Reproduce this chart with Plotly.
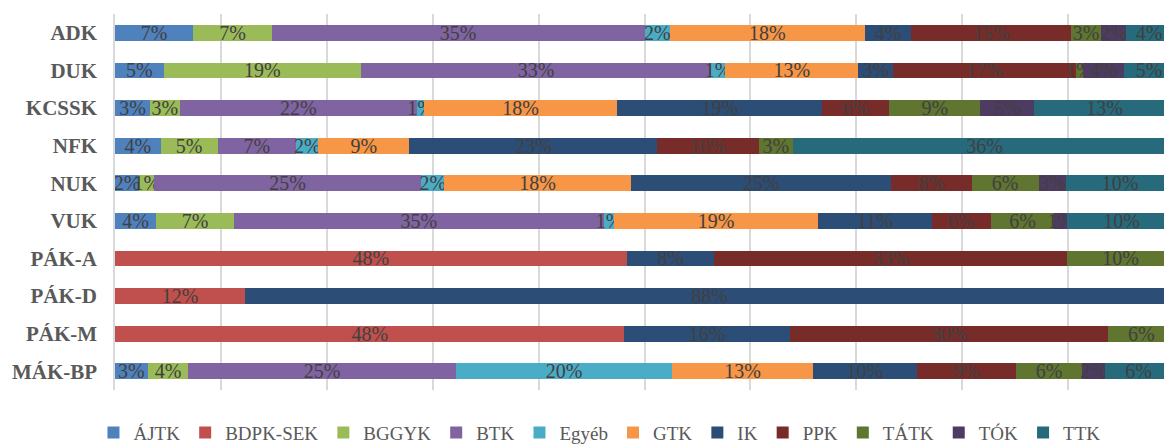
import plotly.graph_objects as go

# units (top to bottom)
units = ["ADK", "DUK", "KCSSK", "NFK", "NUK", "VUK", "PÁK-A", "PÁK-D", "PÁK-M", "MÁK-BP"]

# share of each faculty per unit, in percent
ajtk = [7.4, 4.6, 3.3, 4.3, 2.3, 3.9, None, None, None, 3.1]
bdpk_sek = [None, None, None, None, None, None, 48.3, 12.3, 48.1, None]
bggyk = [7.4, 18.6, 2.8, 5.4, 1.4, 7.3, None, None, None, 3.8]
btk = [35.2, 33.1, 22.4, 7.4, 25.2, 35.0, None, None, None, 25.3]
egyeb = [2.4, 1.3, 0.7, 2.1, 2.2, 0.9, None, None, None, 20.4]
gtk = [18.4, 12.6, 18.2, 8.6, 17.6, 19.3, None, None, None, 13.3]
ik = [4.4, 3.3, 19.4, 23.4, 24.6, 10.7, 8.3, 87.7, 15.6, 9.8]
ppk = [15.1, 17.2, 6.3, 9.6, 7.6, 5.6, 33.3, None, 30.1, 9.4]
tatk = [2.8, 0.7, 8.6, 3.2, 6.3, 6.0, 10.1, None, 6.2, 6.2]
tok = [2.4, 3.9, 5.1, None, 2.6, 1.2, None, None, None, 2.2]
ttk = [4.3, 4.7, 13.3, 36.2, 10.2, 10.3, None, None, None, 6.3]

series = [
    ("ÁJTK", ajtk, "#4F81BD"),
    ("BDPK-SEK", bdpk_sek, "#C0504D"),
    ("BGGYK", bggyk, "#9BBB59"),
    ("BTK", btk, "#8064A2"),
    ("Egyéb", egyeb, "#4BACC6"),
    ("GTK", gtk, "#F79646"),
    ("IK", ik, "#2C4D75"),
    ("PPK", ppk, "#772C2A"),
    ("TÁTK", tatk, "#5F7530"),
    ("TÓK", tok, "#4D3B62"),
    ("TTK", ttk, "#276A7C"),
]

FONT = "Liberation Serif, Times New Roman, serif"

fig = go.Figure()
for name, vals, color in series:
    fig.add_trace(go.Bar(
        y=units, x=vals, name=name, orientation="h",
        marker=dict(color=color, line=dict(width=0)),
        texttemplate="%{x:.0f}%", textposition="inside",
        insidetextanchor="middle", constraintext="none", textangle=0,
        textfont=dict(family=FONT, size=20, color="#404040"),
        hoverinfo="skip",
    ))

fig.update_layout(
    barmode="stack",
    bargap=0.58,
    width=1164, height=446,
    margin=dict(l=115, r=0, t=14, b=56, autoexpand=False),
    plot_bgcolor="white", paper_bgcolor="white",
    font=dict(family=FONT, color="#595959"),
    legend=dict(
        orientation="h", xref="container", x=0.515, xanchor="center",
        yref="container", y=0.03, yanchor="middle",
        font=dict(family=FONT, size=19, color="#595959"),
        itemwidth=30, traceorder="normal",
    ),
)
fig.update_xaxes(
    range=[0, 99.05], showticklabels=False, ticks="",
    showgrid=True, gridcolor="#D9D9D9", gridwidth=1.5, dtick=10,
    zeroline=False, showline=False, automargin=False,
)
fig.update_yaxes(
    autorange="reversed", showgrid=False, ticks="", automargin=False,
    showline=True, linecolor="#D9D9D9", linewidth=1.5,
    tickfont=dict(family=FONT, size=21, color="#595959", weight="bold"),
    ticklabelstandoff=12,
)

# drop the page's default body margin so the figure sits at the window corner
fig.write_html("out.html", config={"displayModeBar": False},
               post_script="document.body.style.margin='0';")
